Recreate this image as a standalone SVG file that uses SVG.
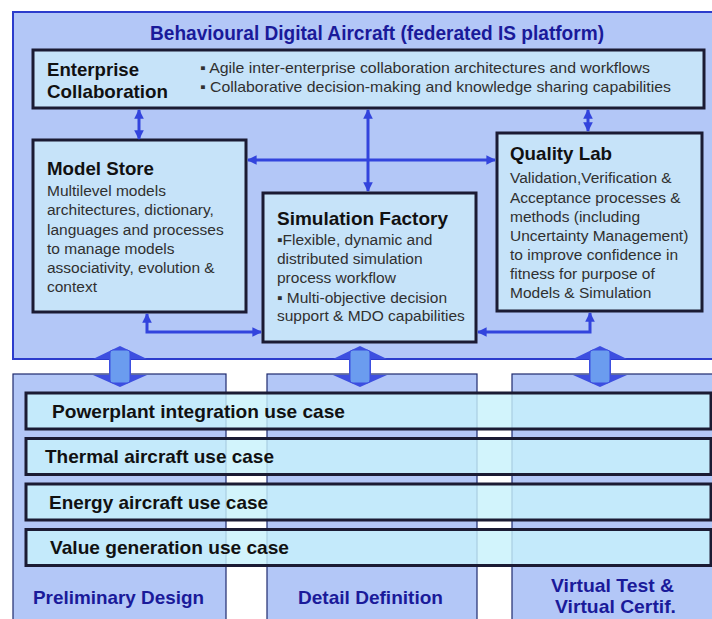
<svg xmlns="http://www.w3.org/2000/svg" width="712" height="619" viewBox="0 0 712 619">
<style>
.plat{fill:#b3c7f7;stroke:#2c3ccc;stroke-width:2}
.col{fill:#b3c7f7;stroke:#1e2a6e;stroke-width:1.2}
.box{fill:#c6e3f9;stroke:#1b1b33;stroke-width:3}
.bar{fill:#c8f2fb;fill-opacity:0.82;stroke:#1b1b33;stroke-width:3}
.h{font-family:"Liberation Sans",Arial,sans-serif;font-weight:bold;font-size:18.5px;fill:#111}
.b{font-family:"Liberation Sans",Arial,sans-serif;font-size:15.5px;fill:#303030}
.eb{font-family:"Liberation Sans",Arial,sans-serif;font-size:15px;fill:#303030}
.t{font-family:"Liberation Sans",Arial,sans-serif;font-weight:bold;font-size:19.5px;fill:#1a1a9a}
.u{font-family:"Liberation Sans",Arial,sans-serif;font-weight:bold;font-size:19px;fill:#111}
.c{font-family:"Liberation Sans",Arial,sans-serif;font-weight:bold;font-size:19px;fill:#1a1a9a}
.con{fill:none;stroke:#3344dd;stroke-width:3;marker-start:url(#ah);marker-end:url(#ah)}
.head{fill:#3d4fe0}
.shaft{fill:#6b9cef;stroke:#3d4fe0;stroke-width:1}
</style>
<defs>
<marker id="ah" viewBox="0 0 10 10" refX="9" refY="5" markerWidth="3.2" markerHeight="3.2" orient="auto-start-reverse" markerUnits="strokeWidth">
<path d="M0,0 L10,5 L0,10 Z" fill="#3344dd"/>
</marker>
<g id="blk">
<polygon class="head" points="0,0 27,13 11,13 11,29 27,29 0,41 -27,29 -11,29 -11,13 -27,13"/>
<rect class="shaft" x="-10" y="4" width="20" height="33" rx="3"/>
</g>
</defs>
<rect width="712" height="619" fill="#ffffff"/>

<g id="platform">
<rect class="plat" x="13" y="12" width="702" height="347"/>
<text class="t" x="150" y="40" textLength="454" lengthAdjust="spacingAndGlyphs">Behavioural Digital Aircraft (federated IS platform)</text>
</g>

<g id="col-preliminary">
<rect class="col" x="13" y="374" width="213" height="250"/>
<text class="c" x="33" y="604" textLength="171" lengthAdjust="spacingAndGlyphs">Preliminary Design</text>
</g>
<g id="col-detail">
<rect class="col" x="267" y="374" width="210" height="250"/>
<text class="c" x="298" y="604" textLength="145" lengthAdjust="spacingAndGlyphs">Detail Definition</text>
</g>
<g id="col-virtual">
<rect class="col" x="512" y="374" width="205" height="250"/>
<text class="c" x="551" y="592" textLength="123" lengthAdjust="spacingAndGlyphs">Virtual Test &amp;</text>
<text class="c" x="555" y="613" textLength="121" lengthAdjust="spacingAndGlyphs">Virtual Certif.</text>
</g>

<g id="enterprise-collaboration">
<rect class="box" x="33" y="50" width="671" height="58"/>
<text class="h" x="47" y="76" textLength="92" lengthAdjust="spacingAndGlyphs">Enterprise</text>
<text class="h" x="47" y="98" textLength="121" lengthAdjust="spacingAndGlyphs">Collaboration</text>
<text class="eb" x="200" y="73" textLength="450" lengthAdjust="spacingAndGlyphs">▪ Agile inter-enterprise collaboration architectures and workflows</text>
<text class="eb" x="200" y="92" textLength="471" lengthAdjust="spacingAndGlyphs">▪ Collaborative decision-making and knowledge sharing capabilities</text>
</g>

<g id="model-store">
<rect class="box" x="33" y="140" width="213" height="172"/>
<text class="h" x="47" y="175" textLength="107" lengthAdjust="spacingAndGlyphs">Model Store</text>
<text class="b" x="47" y="196">Multilevel models</text>
<text class="b" x="47" y="215">architectures, dictionary,</text>
<text class="b" x="47" y="235">languages and processes</text>
<text class="b" x="47" y="254">to manage models</text>
<text class="b" x="47" y="273">associativity, evolution &amp;</text>
<text class="b" x="47" y="292">context</text>
</g>

<g id="simulation-factory">
<rect class="box" x="263" y="193" width="213" height="149"/>
<text class="h" x="277" y="225" textLength="171" lengthAdjust="spacingAndGlyphs">Simulation Factory</text>
<text class="b" x="277" y="245">▪Flexible, dynamic and</text>
<text class="b" x="277" y="264">distributed simulation</text>
<text class="b" x="277" y="283">process workflow</text>
<text class="b" x="277" y="302.5">▪ Multi-objective decision</text>
<text class="b" x="277" y="321">support &amp; MDO capabilities</text>
</g>

<g id="quality-lab">
<rect class="box" x="497" y="133" width="205" height="178"/>
<text class="h" x="510" y="160" textLength="102" lengthAdjust="spacingAndGlyphs">Quality Lab</text>
<text class="b" x="510" y="183">Validation,Verification &amp;</text>
<text class="b" x="510" y="202.5">Acceptance processes &amp;</text>
<text class="b" x="510" y="222">methods (including</text>
<text class="b" x="510" y="241">Uncertainty Management)</text>
<text class="b" x="510" y="260">to improve confidence in</text>
<text class="b" x="510" y="279">fitness for purpose of</text>
<text class="b" x="510" y="298">Models &amp; Simulation</text>
</g>

<g id="connectors">
<path class="con" d="M139,110 L139,139"/>
<path class="con" d="M368,110 L368,191"/>
<path class="con" d="M588,110 L588,131"/>
<path class="con" d="M248,160 L495,160"/>
<path class="con" d="M147,314 L147,332 L261,332"/>
<path class="con" d="M590,313 L590,332 L478,332"/>
<use href="#blk" x="120" y="346"/>
<use href="#blk" x="360" y="346"/>
<use href="#blk" x="600" y="346"/>
</g>

<g id="uc-powerplant">
<rect class="bar" x="26" y="393" width="685" height="36"/>
<text class="u" x="52" y="417.5" textLength="293" lengthAdjust="spacingAndGlyphs">Powerplant integration use case</text>
</g>
<g id="uc-thermal">
<rect class="bar" x="26" y="438.5" width="685" height="36"/>
<text class="u" x="45" y="463" textLength="229" lengthAdjust="spacingAndGlyphs">Thermal aircraft use case</text>
</g>
<g id="uc-energy">
<rect class="bar" x="26" y="484" width="685" height="36"/>
<text class="u" x="49" y="508.5" textLength="219" lengthAdjust="spacingAndGlyphs">Energy aircraft use case</text>
</g>
<g id="uc-value">
<rect class="bar" x="26" y="529.5" width="685" height="36"/>
<text class="u" x="50" y="554" textLength="239" lengthAdjust="spacingAndGlyphs">Value generation use case</text>
</g>
</svg>
